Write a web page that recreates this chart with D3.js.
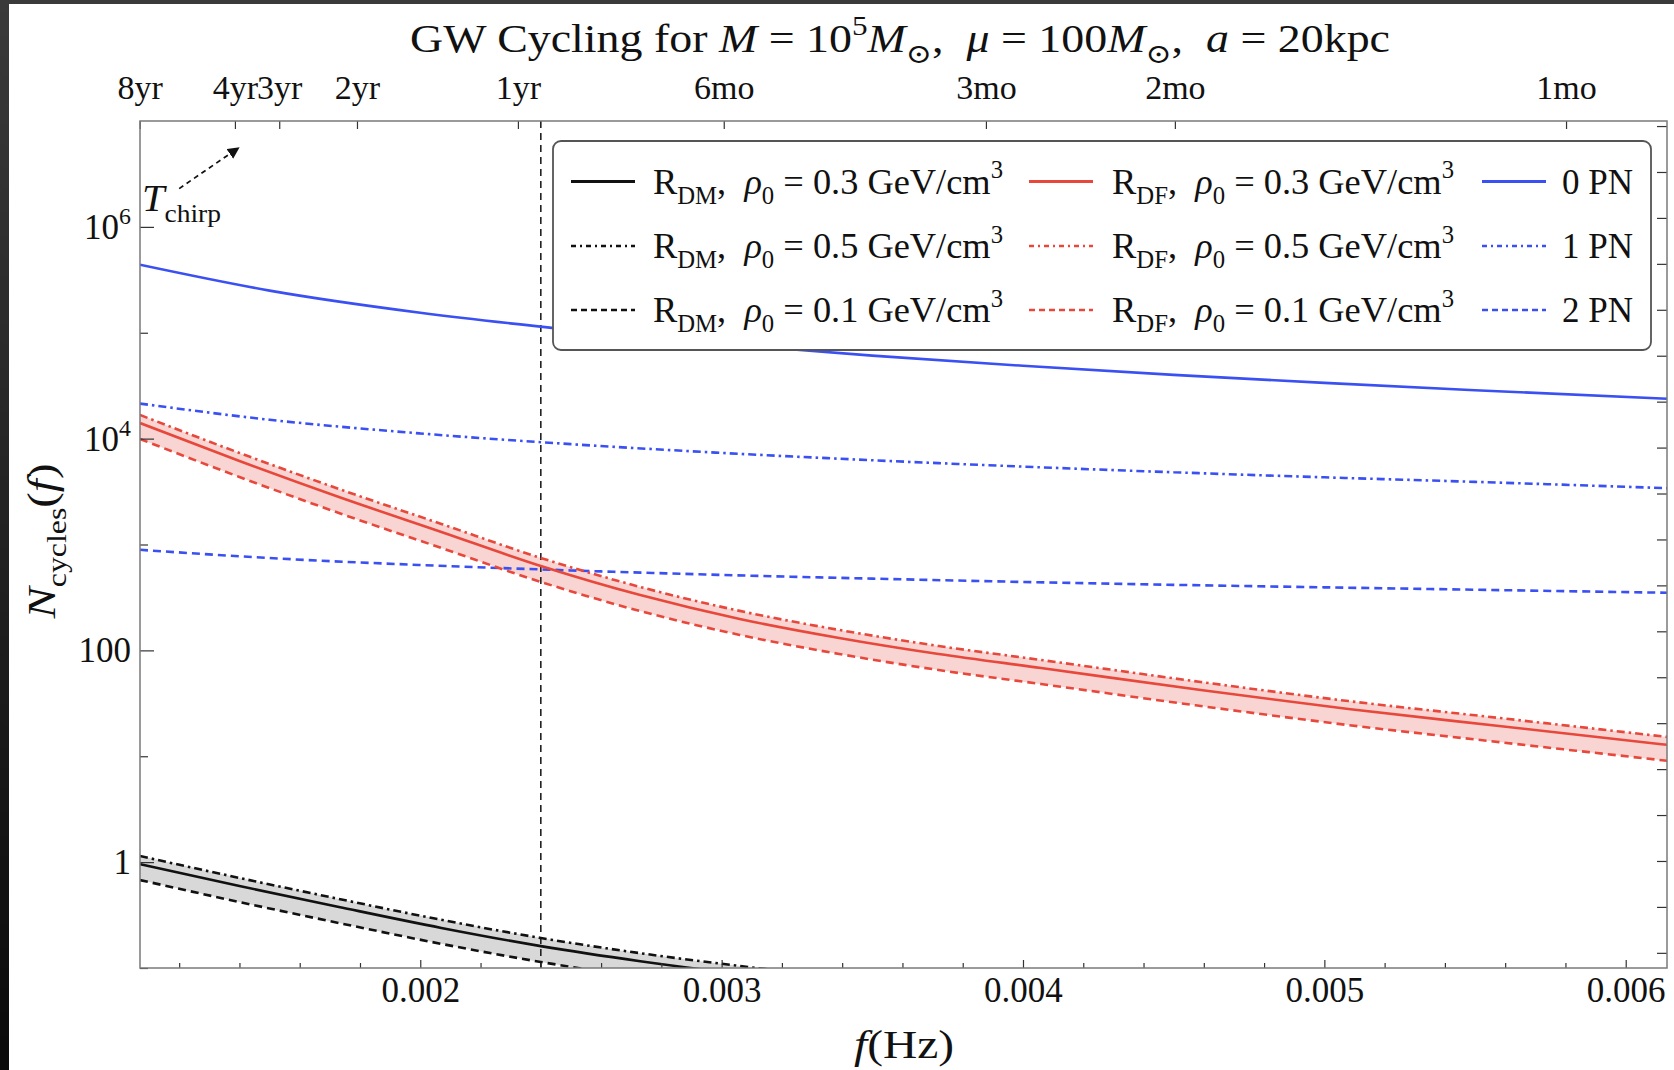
<!DOCTYPE html>
<html lang="en">
<head>
<meta charset="utf-8" />
<title>GW Cycling</title>
<script src="https://d3js.org/d3.v7.min.js"></script>
<style>
  body{margin:0;background:#fff;overflow:hidden;}
  svg{display:block;}
  svg text{white-space:pre;font-family:"Liberation Serif","DejaVu Serif",serif;fill:#111;}
  .tick line{stroke:#333;stroke-width:1.2px;}
</style>
</head>
<body>
<svg id="chart" width="1674" height="1070"></svg>
<script>
// -------------- DATA --------------
// PN reference curves
const FREQ_PN=[0.00107,0.0015,0.002,0.0025,0.003,0.0035,0.004,0.0045,0.005,0.0055,0.00614];
const PN0=[438500,250000,154500,106700,78700,60800,48750,40000,33600,28640,23800];
const PN1=[21430,15070,11190,8870,7330,6250,5440,4810,4310,3905,3400];
const PN2=[891,745,640,569,516,476,443,416,394,374,350];

// dynamical friction
const FREQ_DF=[0.00107,0.0014,0.00173,0.00207,0.0024,0.00273,0.00306,0.00339,0.00372,0.00406,0.00459,0.00508,0.00558,0.00614];
const DF_03=[14050,6150,2810,1313,627,333,198,131,92.4,68.2,42.2,27.9,19.3,12.8];
const DF_05=[16730,7325,3347,1564,747,397,236,156,110,81.2,50.3,33.2,23.0,15.2];
const DF_01=[9920,4342,1984,927,443,235,140,92.5,65.2,48.1,29.8,19.7,13.6,9.04];

// dark matter
const FREQ_DM=[0.00107,0.0014,0.00173,0.00207,0.0024,0.00273,0.00306,0.00339];
const DM_03=[0.959,0.595,0.377,0.239,0.161,0.116,0.0877,0.069];
const DM_05=[1.142,0.709,0.449,0.285,0.192,0.138,0.1045,0.0822];
const DM_01=[0.677,0.420,0.266,0.169,0.114,0.082,0.062,0.0487];

// top axis: time to merger
const PERIOD_LABELS=['8yr','4yr','3yr','2yr','1yr','6mo','3mo','2mo','1mo'];
const PERIOD_FREQ=[0.001069,0.001385,0.001532,0.00179,0.002324,0.003007,0.003877,0.004504,0.005802];

const X_TICKS=[0.002,0.003,0.004,0.005,0.006];
const Y_MAJOR=[1,100,1e4,1e6];
const Y_MAJOR_LABELS=[['1'],['100'],['10','4'],['10','6']];
const Y_MINOR=[0.1,10,1e3,1e5];
const F_LISA=0.0024;

// -------------- STYLE --------------
const BLUE='#3a50f2', RED='#e8473b', BLACK='#111';
const DASH='8,5', DASHDOT='8,4,2.5,4';
const X0=140,X1=1667,Y0=121,Y1=968;
const FS=35;

const svg=d3.select('#chart');
const x=d3.scaleLinear().domain([0.00107,0.006137]).range([X0,X1]);
const y=d3.scaleLog().domain([0.1,1e7]).range([Y1,Y0]);

// screen border
const defs=svg.append('defs');
const grad=defs.append('linearGradient').attr('id','edge').attr('x1',0).attr('x2',0).attr('y1',0).attr('y2',1);
grad.append('stop').attr('offset','0%').attr('stop-color','#3a3a3a');
grad.append('stop').attr('offset','100%').attr('stop-color','#0a0a0a');
svg.append('rect').attr('x',0).attr('y',0).attr('width',1674).attr('height',4).attr('fill','#3a3a3a');
svg.append('rect').attr('x',0).attr('y',0).attr('width',9).attr('height',1070).attr('fill','url(#edge)');

defs.append('clipPath').attr('id','plot').append('rect')
  .attr('x',X0).attr('y',Y0).attr('width',X1-X0).attr('height',Y1-Y0);
defs.append('marker').attr('id','arrow').attr('viewBox','0 0 10 10')
  .attr('refX',8).attr('refY',5).attr('markerWidth',7).attr('markerHeight',7).attr('orient','auto')
  .append('path').attr('d','M0,0L10,5L0,10z').attr('fill','#111');

// rich text helper: parts = [[text, kind]] kind: '', 'i', 'sup', 'sub'
function rich(sel,parts,fs){
  let shift=0;
  parts.forEach(([txt,kind])=>{
    let target=0,size=fs;
    if(kind==='sup'){target=-0.42*fs;size=0.68*fs;}
    if(kind==='sub'){target=0.28*fs;size=0.68*fs;}
    const t=sel.append('tspan').text(txt).attr('dy',target-shift).attr('font-size',size);
    if(kind==='i') t.attr('font-style','italic');
    shift=target;
  });
  return sel;
}
// Computer Modern is wider than Times: stretch to the measured width
const fit=(sel,w)=>sel.attr('textLength',w).attr('lengthAdjust','spacingAndGlyphs');

// -------------- CURVES --------------
const plot=svg.append('g').attr('clip-path','url(#plot)');
const area=d3.area().curve(d3.curveMonotoneX);
const line=d3.line().curve(d3.curveMonotoneX);

function band(fs,lo,hi,fill){
  plot.append('path')
    .attr('d',area.x((d,i)=>x(fs[i])).y0((d,i)=>y(lo[i])).y1((d,i)=>y(hi[i]))(fs))
    .attr('fill',fill);
}
function curve(fs,vals,color,dash){
  plot.append('path')
    .attr('d',line.x((d,i)=>x(fs[i])).y((d,i)=>y(vals[i]))(fs))
    .attr('fill','none').attr('stroke',color).attr('stroke-width',2.6)
    .attr('stroke-dasharray',dash);
}

band(FREQ_DF,DF_01,DF_05,'#f8d5d2');
band(FREQ_DM,DM_01,DM_05,'#d8d8d8');

plot.append('line').attr('x1',x(F_LISA)).attr('x2',x(F_LISA)).attr('y1',Y0).attr('y2',Y1)
  .attr('stroke','#222').attr('stroke-width',1.6).attr('stroke-dasharray','7,5');

curve(FREQ_PN,PN0,BLUE,null);
curve(FREQ_PN,PN1,BLUE,DASHDOT);
curve(FREQ_PN,PN2,BLUE,DASH);
curve(FREQ_DF,DF_03,RED,null);
curve(FREQ_DF,DF_05,RED,DASHDOT);
curve(FREQ_DF,DF_01,RED,DASH);
curve(FREQ_DM,DM_03,BLACK,null);
curve(FREQ_DM,DM_05,BLACK,DASHDOT);
curve(FREQ_DM,DM_01,BLACK,DASH);

// -------------- AXES --------------
const noDomain=g=>g.select('.domain').remove();
const labelStyle=g=>g.attr('font-family',null).selectAll('text').attr('font-size',FS);

// bottom
svg.append('g').attr('transform',`translate(0,${Y1})`)
  .call(d3.axisBottom(x).tickValues(X_TICKS).tickSizeInner(-8).tickSizeOuter(0).tickPadding(9).tickFormat(d3.format('.3f')))
  .call(noDomain).call(labelStyle);
svg.append('g').attr('transform',`translate(0,${Y1})`)
  .call(d3.axisBottom(x).tickValues(d3.range(6,31).map(k=>k*0.0002).filter(v=>Math.abs(v*1000-Math.round(v*1000))>1e-6)).tickSizeInner(-5).tickSizeOuter(0).tickFormat(''))
  .call(noDomain);

// top (time to merger)
svg.append('g').attr('transform',`translate(0,${Y0})`)
  .call(d3.axisTop(x).tickValues(PERIOD_FREQ).tickSizeInner(-8).tickSizeOuter(0).tickPadding(22)
    .tickFormat((d,i)=>PERIOD_LABELS[i]))
  .call(noDomain).call(labelStyle)
  .call(g=>g.selectAll('text').attr('font-size',34));

// left
const left=svg.append('g').attr('transform',`translate(${X0},0)`);
left.call(d3.axisLeft(y).tickValues(Y_MAJOR).tickSizeInner(-14).tickSizeOuter(0).tickFormat('')).call(noDomain);
left.append('g').call(d3.axisLeft(y).tickValues(Y_MINOR).tickSizeInner(-8).tickSizeOuter(0).tickFormat('')).call(noDomain);
Y_MAJOR.forEach((v,i)=>{
  const lab=Y_MAJOR_LABELS[i];
  const t=svg.append('text').attr('x',X0-9).attr('y',y(v)+12).attr('text-anchor','end').attr('font-size',FS);
  rich(t,lab.length>1?[[lab[0],''],[lab[1],'sup']]:[[lab[0],'']],FS);
});

// right (unlabelled frame ticks)
const rScale=d3.scaleLinear().domain([-0.33,18.11]).range([Y1,Y0]);
svg.append('g').attr('transform',`translate(${X1},0)`)
  .call(d3.axisLeft(rScale).tickValues(d3.range(0,19)).tickSizeInner(10).tickSizeOuter(0).tickFormat(''))
  .call(noDomain);

// frame
svg.append('rect').attr('x',X0).attr('y',Y0).attr('width',X1-X0).attr('height',Y1-Y0)
  .attr('fill','none').attr('stroke','#7a7a7a').attr('stroke-width',1.5);

// -------------- TEXT --------------
const title=svg.append('text').attr('x',900).attr('y',52).attr('text-anchor','middle').attr('font-size',40);
rich(title,[['GW Cycling for ',''],['M','i'],[' = 10',''],['5','sup'],['M','i'],['⊙','sub'],[',  ',''],['μ','i'],[' = 100',''],['M','i'],['⊙','sub'],[',  ',''],['a','i'],[' = 20kpc','']],40);
fit(title,980);

const xl=svg.append('text').attr('x',904).attr('y',1058).attr('text-anchor','middle').attr('font-size',40);
rich(xl,[['f','i'],['(Hz)','']],40);
fit(xl,100);

const yl=svg.append('text').attr('transform',`translate(55,541) rotate(-90)`).attr('text-anchor','middle').attr('font-size',40);
rich(yl,[['N','i'],['cycles','sub'],['(',''],['f','i'],[')','']],40);
fit(yl,155);

// T_chirp annotation
const tc=svg.append('text').attr('x',X0+2).attr('y',y(1.4e6)).attr('font-size',38);
rich(tc,[['T','i'],['chirp','sub']],38);
fit(tc,79);
svg.append('line').attr('x1',x(0.0012)).attr('y1',y(2.3e6)).attr('x2',x(0.001394)).attr('y2',y(5.5e6))
  .attr('stroke','#111').attr('stroke-width',1.7).attr('stroke-dasharray','5,4').attr('marker-end','url(#arrow)');

// -------------- LEGEND --------------
const rdm=v=>[['R',''],['DM','sub'],[',  ',''],['ρ','i'],['0','sub'],[` = ${v} GeV/cm`,''],['3','sup']];
const rdf=v=>[['R',''],['DF','sub'],[',  ',''],['ρ','i'],['0','sub'],[` = ${v} GeV/cm`,''],['3','sup']];
const LEG_ITEMS=[
  {col:0,color:BLACK,dash:null,parts:rdm('0.3'),w:350},
  {col:0,color:BLACK,dash:DASHDOT,parts:rdm('0.5'),w:350},
  {col:0,color:BLACK,dash:DASH,parts:rdm('0.1'),w:350},
  {col:1,color:RED,dash:null,parts:rdf('0.3'),w:342},
  {col:1,color:RED,dash:DASHDOT,parts:rdf('0.5'),w:342},
  {col:1,color:RED,dash:DASH,parts:rdf('0.1'),w:342},
  {col:2,color:BLUE,dash:null,parts:[['0 PN','']],w:71},
  {col:2,color:BLUE,dash:DASHDOT,parts:[['1 PN','']],w:71},
  {col:2,color:BLUE,dash:DASH,parts:[['2 PN','']],w:71}
];
const legend=svg.append('g');
legend.append('rect').attr('x',553).attr('y',141).attr('width',1098).attr('height',209).attr('rx',8)
  .attr('fill','#fff').attr('stroke','#555').attr('stroke-width',1.8);
const colX=[571,1029,1482];
const textX=[653,1112,1562];
const rowY=[181.5,246,310];
LEG_ITEMS.forEach((it,i)=>{
  const row=i%3, cx=colX[it.col], cy=rowY[row];
  legend.append('line').attr('x1',cx).attr('x2',cx+64).attr('y1',cy).attr('y2',cy)
    .attr('stroke',it.color).attr('stroke-width',it.dash?2.6:3).attr('stroke-dasharray',it.dash?(it.dash===DASH?'6,4':'5,4,2,4'):null);
  const t=legend.append('text').attr('x',textX[it.col]).attr('y',cy+12).attr('font-size',36);
  rich(t,it.parts,36);
  fit(t,it.w);
});
</script>
</body>
</html>
